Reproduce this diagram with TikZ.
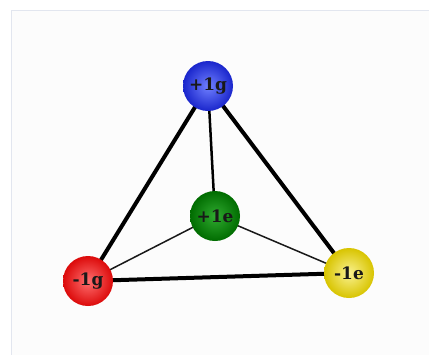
\documentclass[tikz,border=0pt]{standalone}
\usepackage{fontspec}
\setmainfont{DejaVu Serif}
\usetikzlibrary{backgrounds}
\pgfdeclarelayer{panel}
\pgfsetlayers{panel,background,main}
\definecolor{frameline}{HTML}{E2E6EF}
\definecolor{panelfill}{HTML}{FCFCFC}
\definecolor{bluein}{HTML}{7080FF}
\definecolor{blueout}{HTML}{1A26CC}
\definecolor{redin}{HTML}{FF7070}
\definecolor{redout}{HTML}{DC0A0A}
\definecolor{yellowin}{HTML}{FAF290}
\definecolor{yellowout}{HTML}{D8C400}
\definecolor{greenin}{HTML}{30AA30}
\definecolor{greenout}{HTML}{006C00}
\tikzset{
  x=1pt,y=-1pt,
  ball/.style={circle,minimum size=50pt,inner sep=0pt,font=\fontsize{17}{17}\selectfont\bfseries,text=black!90},
  blueball/.style={ball,inner color=bluein,outer color=blueout},
  redball/.style={ball,inner color=redin,outer color=redout},
  yellowball/.style={ball,inner color=yellowin,outer color=yellowout},
  greenball/.style={ball,inner color=greenin,outer color=greenout},
  thickedge/.style={line width=4pt,black},
  thinedge/.style={line width=1.5pt,black!90},
}
\begin{document}
\begin{tikzpicture}
\useasboundingbox (0,0) rectangle (429,354);
\begin{pgfonlayer}{panel}
\fill[white] (0,0) rectangle (429,354);
\begin{scope}
\clip (0,0) rectangle (429,354);
\filldraw[fill=panelfill,draw=frameline,line width=1pt] (11.5,10.5) rectangle (450,380);
\end{scope}
\end{pgfonlayer}
\node[blueball] (pg) at (208,86) {+1g};
\node[greenball] (pe) at (215,216) {+1e};
\node[redball] (mg) at (88,281) {-1g};
\node[yellowball] (me) at (349,273) {-1e};
\begin{scope}[on background layer]
\draw[thickedge] (pg.center) -- (mg.center);
\draw[thickedge] (pg.center) -- (me.center);
\draw[thickedge] (mg.center) -- (me.center);
\draw[line width=2.5pt] (pg.center) -- (pe.center);
\draw[thinedge] (pe.center) -- (mg.center);
\draw[thinedge] (pe.center) -- (me.center);
\end{scope}
\end{tikzpicture}
\end{document}
